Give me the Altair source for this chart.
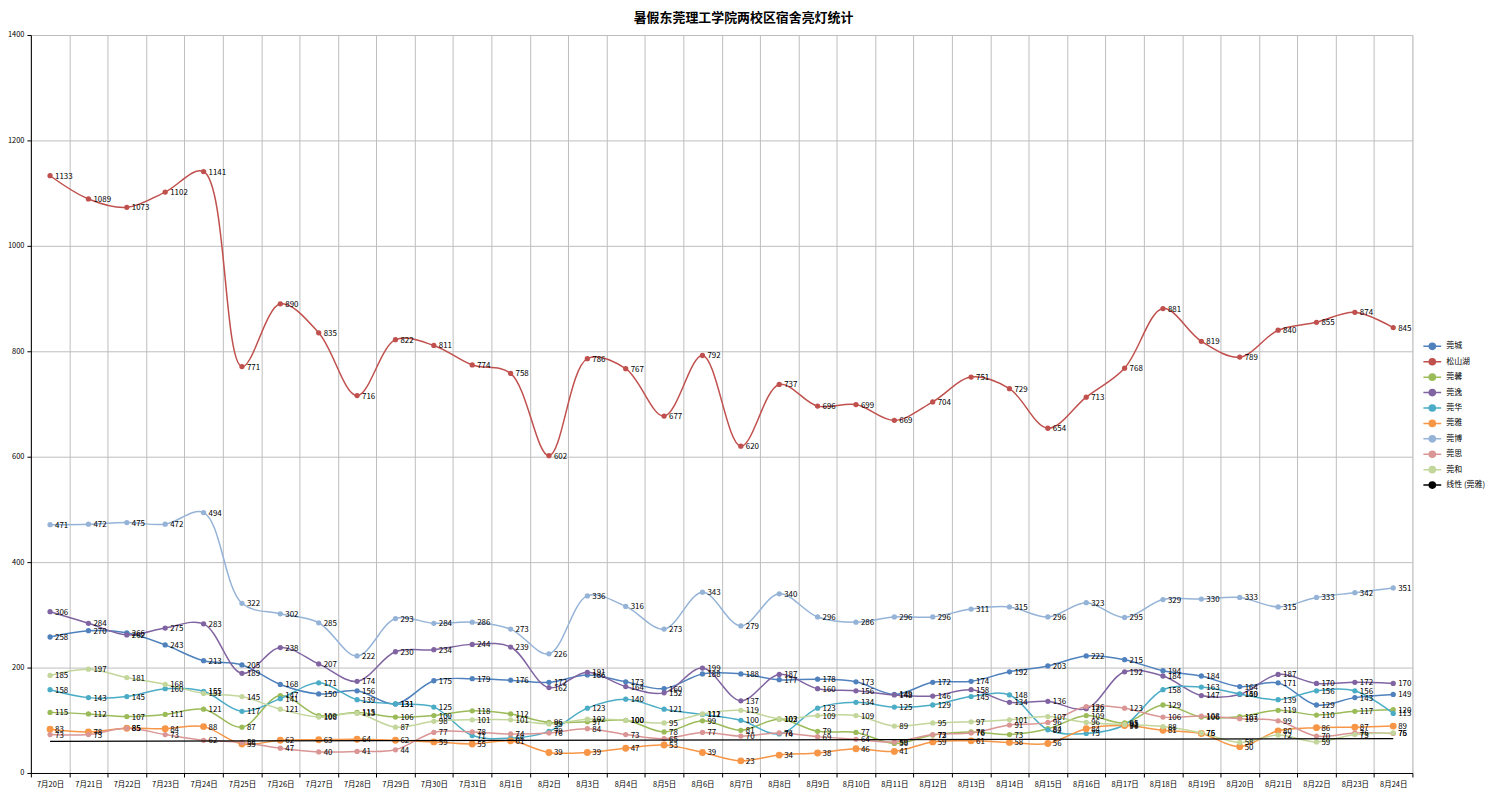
import altair as alt
import pandas as pd

dates = ["7月20日", "7月21日", "7月22日", "7月23日", "7月24日", "7月25日", "7月26日",
         "7月27日", "7月28日", "7月29日", "7月30日", "7月31日", "8月1日", "8月2日",
         "8月3日", "8月4日", "8月5日", "8月6日", "8月7日", "8月8日", "8月9日",
         "8月10日", "8月11日", "8月12日", "8月13日", "8月14日", "8月15日", "8月16日",
         "8月17日", "8月18日", "8月19日", "8月20日", "8月21日", "8月22日", "8月23日",
         "8月24日"]

guancheng = [258, 270, 266, 243, 213, 205, 168, 150, 156, 131, 175, 179, 176, 172, 186, 173, 160, 188,
             188, 177, 178, 173, 149, 172, 174, 192, 203, 222, 215, 194, 184, 164, 171, 129, 143, 149]
songshanhu = [1133, 1089, 1073, 1102, 1141, 771, 890, 835, 716, 822, 811, 774, 758, 602, 786, 767, 677, 792,
              620, 737, 696, 699, 669, 704, 751, 729, 654, 713, 768, 881, 819, 789, 840, 855, 874, 845]
guanxin = [115, 112, 107, 111, 121, 87, 147, 109, 115, 106, 109, 118, 112, 96, 97, 100, 78, 99,
           81, 102, 79, 77, 56, 72, 78, 73, 84, 109, 95, 129, 106, 107, 119, 110, 117, 120]
guanyi = [306, 284, 262, 275, 283, 189, 238, 207, 174, 230, 234, 244, 239, 162, 191, 164, 152, 199,
          137, 187, 160, 156, 148, 146, 158, 134, 136, 122, 192, 184, 147, 149, 187, 170, 172, 170]
guanhua = [158, 143, 145, 160, 155, 117, 141, 171, 139, 131, 125, 71, 66, 79, 123, 140, 121, 111,
           100, 74, 123, 134, 125, 129, 145, 148, 82, 75, 91, 158, 163, 150, 139, 156, 156, 113]
guanya = [83, 78, 85, 84, 88, 55, 62, 63, 64, 62, 59, 55, 61, 39, 39, 47, 53, 39,
          23, 34, 38, 46, 41, 59, 61, 58, 56, 84, 90, 81, 75, 50, 80, 86, 87, 89]
guanbo = [471, 472, 475, 472, 494, 322, 302, 285, 222, 293, 284, 286, 273, 226, 336, 316, 273, 343,
          279, 340, 296, 286, 296, 296, 311, 315, 296, 323, 295, 329, 330, 333, 315, 333, 342, 351]
guansi = [73, 73, 85, 73, 62, 58, 47, 40, 41, 44, 77, 78, 74, 76, 84, 73, 65, 77,
          70, 76, 69, 64, 59, 73, 76, 91, 96, 126, 123, 106, 108, 103, 99, 70, 76, 75]
guanhe = [185, 197, 181, 168, 151, 145, 121, 106, 113, 87, 98, 101, 101, 93, 102, 100, 95, 112,
          119, 103, 109, 109, 89, 95, 97, 101, 107, 96, 92, 88, 76, 58, 72, 59, 73, 76]

series_names = ["莞城", "松山湖", "莞馨", "莞逸", "莞华", "莞雅", "莞博", "莞思", "莞和"]
series_values = [guancheng, songshanhu, guanxin, guanyi, guanhua, guanya, guanbo, guansi, guanhe]
series_colors = ["#4F81BD", "#C0504D", "#9BBB59", "#8064A2", "#4BACC6",
                 "#F79646", "#95B3D7", "#D99694", "#C3D69B"]
trend_name = "线性 (莞雅)"

rows = []
for name, vals in zip(series_names, series_values):
    for i, (d, v) in enumerate(zip(dates, vals)):
        rows.append({"series": name, "date": d, "idx": i, "value": v})
df = pd.DataFrame(rows)

FONT = "Noto Sans CJK SC"

color = alt.Color(
    "series:N",
    scale=alt.Scale(domain=series_names + [trend_name], range=series_colors + ["#000000"]),
    legend=alt.Legend(
        title=None, orient="none", legendX=1401, legendY=305,
        symbolType="M-1.3,0H1.3M0.45,0A0.45,0.45,0,1,1,-0.45,0A0.45,0.45,0,1,1,0.45,0",
        symbolSize=190, symbolStrokeWidth=1.5, labelFontSize=8, labelFont=FONT,
        labelColor="#000000", rowPadding=0.5, labelOffset=6,
    ),
)

x = alt.X(
    "date:O", sort=dates, title=None, bandPosition=0.5,
    scale=alt.Scale(type="band", domain=dates, paddingInner=0, paddingOuter=0),
    axis=alt.Axis(tickBand="extent", labelAngle=0, labelFontSize=7.5, labelFont=FONT,
                  labelColor="#000000", grid=True, gridColor="#BDBDBD", domainColor="#000000",
                  tickColor="#000000", tickSize=4, labelPadding=4),
)
y = alt.Y(
    "value:Q", title=None,
    scale=alt.Scale(domain=[0, 1400], nice=False),
    axis=alt.Axis(values=list(range(0, 1401, 200)), format="d", labelFontSize=7.5, labelFont=FONT,
                  labelColor="#000000", gridColor="#BDBDBD", domainColor="#000000",
                  tickColor="#000000", tickSize=4, labelPadding=3),
)

base = alt.Chart(df)

lines = base.mark_line(interpolate="catmull-rom", strokeWidth=1.5).encode(
    x=x, y=y, color=color, detail="series:N")

points = base.mark_point(filled=True, opacity=1).encode(
    x=x, y=y, color=color,
    size=alt.condition(alt.datum.series == "莞雅", alt.value(48), alt.value(28)),
)

labels = base.mark_text(align="left", baseline="middle", dx=5, dy=1, fontSize=8,
                        font=FONT, color="#000000").encode(
    x=x, y=y, text="value:Q")

trend = base.transform_filter(alt.datum.series == "莞雅").transform_regression(
    "idx", "value", extent=[0, 35]
).transform_calculate(series="'" + trend_name + "'").mark_line(strokeWidth=1.2).encode(
    x=alt.X("idx:Q", scale=alt.Scale(domain=[-0.5, 35.5], nice=False, zero=False), axis=None),
    y=alt.Y("value:Q", scale=alt.Scale(domain=[0, 1400], nice=False)),
    color=color,
)

main = alt.layer(lines, points, labels)

chart = alt.layer(main, trend).resolve_scale(x="independent").properties(
    width=1389, height=742,
    autosize=alt.AutoSizeParams(type="none"),
    padding={"left": 23, "top": 25, "right": 77, "bottom": 23},
    title=alt.TitleParams("暑假东莞理工学院两校区宿舍亮灯统计", fontSize=13, fontWeight="bold",
                          font=FONT, anchor="middle", dx=22, offset=6, color="#000000"),
).configure_view(stroke="#BDBDBD").configure(background="#FFFFFF")

chart.save("out.html", embed_options={"renderer": "svg", "actions": False})
